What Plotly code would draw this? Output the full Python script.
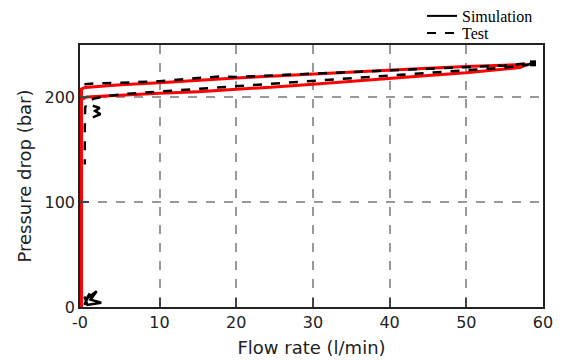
import plotly.graph_objects as go

# Simulation loop (red)
sim_flow = [-0.18, -0.18, 0.3, 2, 5, 10, 15, 20, 25, 30, 35, 40, 45, 50, 55, 58.0,
            57, 55, 50, 45, 40, 35, 30, 25, 20, 15, 10, 5, 2, 0.5, -0.18, -0.18]
sim_pressure = [0, 208, 209.5, 210.5, 212, 214, 216.5, 218.5, 220.5, 222.5, 224, 226, 227.8, 229.5, 231, 231.5,
                228.5, 227, 223.5, 221, 218, 215, 212.5, 210, 207.5, 205.5, 204, 202.5, 201.5, 200.5, 198, 0]

# Test loop (black dashed)
test_flow = [0.2, 2, 5, 10, 15, 18, 20, 25, 30, 35, 40, 45, 50, 55, 58.6,
             58, 55, 50, 45, 40, 35, 30, 25, 20, 15, 10, 5, 3, 1.5, 0.6, 0.3, 0.25, 0.25]
test_pressure = [212.5, 213.5, 214, 215.5, 218.5, 220, 219.5, 221, 223, 224.5, 226, 227.5, 229, 230.5, 233,
                 231, 228.5, 226, 223.5, 221, 218.5, 216, 213, 210.5, 208, 205.5, 203, 201, 199, 196, 190, 170, 136]

# Test noise near zero flow
noise_flow = [1.3, 2.2, 1.6, 2.3, 1.3]
noise_pressure = [192, 190, 187, 184, 181]
origin_flow = [0.2, 0.9, 0.5, 1.8, 1.0, 2.4, 0.6, 0.2]
origin_pressure = [2, 13, 8, 15, 7, 4, 2, 10]

x_ticks = [-0.37, 10, 20, 30, 40, 50, 60]
x_tick_text = ["-0", "10", "20", "30", "40", "50", "60"]
y_ticks = [0, 100, 200]

fig = go.Figure()
fig.add_trace(go.Scatter(x=sim_flow, y=sim_pressure, mode="lines",
                         line=dict(color="#ff0000", width=3), showlegend=False))
fig.add_trace(go.Scatter(x=test_flow, y=test_pressure, mode="lines",
                         line=dict(color="black", width=2.5, dash="dash"), showlegend=False))
fig.add_trace(go.Scatter(x=noise_flow, y=noise_pressure, mode="lines",
                         line=dict(color="black", width=2.5), showlegend=False))
fig.add_trace(go.Scatter(x=origin_flow, y=origin_pressure, mode="lines",
                         line=dict(color="black", width=2.5), showlegend=False))
fig.add_trace(go.Scatter(x=[58.7], y=[232.5], mode="markers",
                         marker=dict(color="black", size=6, symbol="square"), showlegend=False))
# legend entries
fig.add_trace(go.Scatter(x=[None], y=[None], mode="lines", name="Simulation",
                         line=dict(color="black", width=2), legend="legend"))
fig.add_trace(go.Scatter(x=[None], y=[None], mode="lines", name="Test",
                         line=dict(color="black", width=2, dash="dash"), legend="legend2"))

tick_font = dict(family="DejaVu Sans", size=16, color="#222")
title_font = dict(family="DejaVu Sans", size=18, color="#222")
axis_common = dict(showline=True, linecolor="#222", linewidth=1.5, mirror=True,
                   ticks="inside", ticklen=9, tickcolor="#444", tickwidth=1.5,
                   showgrid=True, gridcolor="#999", griddash="dash", gridwidth=1.5,
                   zeroline=False, tickfont=tick_font)

fig.update_xaxes(range=[-0.37, 60], tickvals=x_ticks, ticktext=x_tick_text,
                 title=dict(text="Flow rate (l/min)", font=title_font, standoff=10),
                 **axis_common)
fig.update_yaxes(range=[0, 250], tickvals=y_ticks,
                 title=dict(text="Pressure drop (bar)", font=title_font, standoff=8),
                 **axis_common)

legend_common = dict(xanchor="left", yanchor="middle", bgcolor="rgba(0,0,0,0)",
                     font=dict(family="Liberation Serif", size=16, color="black"),
                     borderwidth=0)
fig.update_layout(
    width=563, height=360,
    margin=dict(l=80, r=20, t=45, b=53, autoexpand=False),
    plot_bgcolor="white", paper_bgcolor="white",
    legend=dict(x=0.7387, y=1.1107, **legend_common),
    legend2=dict(x=0.7387, y=1.0458, **legend_common),
)

fig.write_html("out.html")
